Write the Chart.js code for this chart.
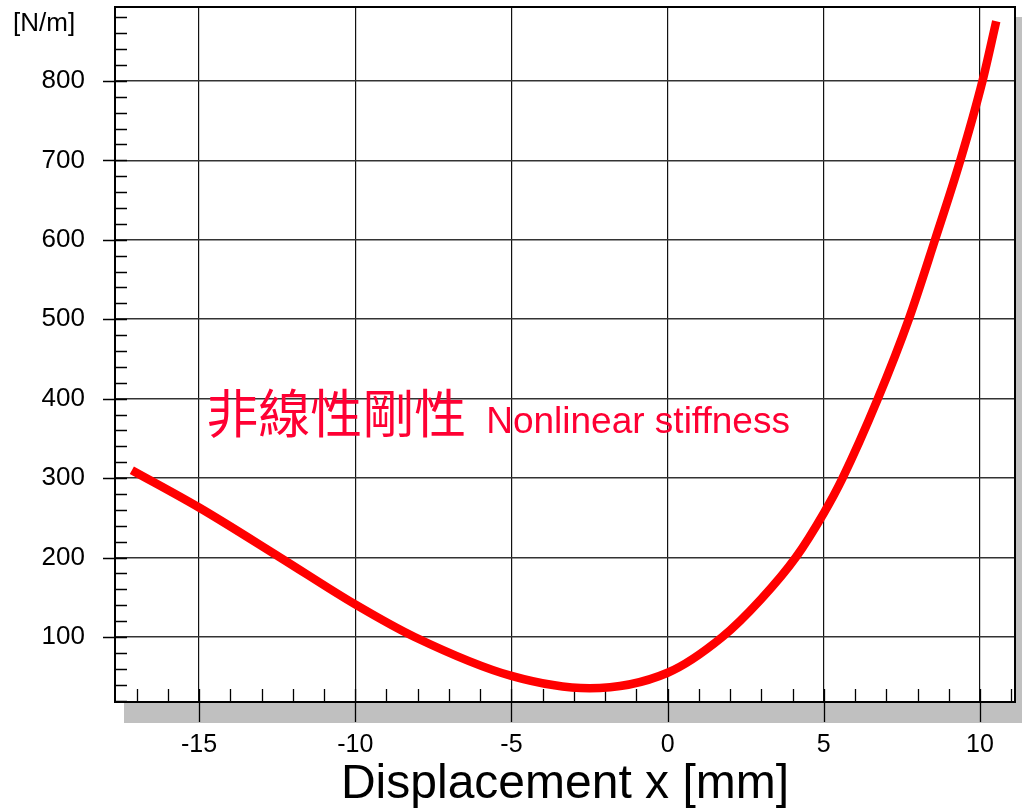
<!DOCTYPE html>
<html>
<head>
<meta charset="utf-8">
<script src="https://cdn.jsdelivr.net/npm/chart.js@4.4.1/dist/chart.umd.min.js"></script>
<style>
  html, body { margin: 0; padding: 0; background: #fff; }
</style>
</head>
<body>
<canvas id="chart" width="1022" height="811"></canvas>
<script>
// values
const displacement = [-17.15, -15, -12.4, -10, -8.1, -5, -2.5, 0, 1.75, 3.0, 4.1, 5, 5.6, 6.73, 7.72, 8.56, 9.37, 10.08, 10.52];
const stiffness = [310, 263, 200, 141, 100, 51, 35.5, 55, 100, 148, 200, 256, 300, 400, 500, 600, 700, 800, 875];
const xTicks = [-15, -10, -5, 0, 5, 10];
const yTicks = [100, 200, 300, 400, 500, 600, 700, 800];
const yUnit = "[N/m]";
const xTitle = "Displacement x [mm]";
const labelJa = "非線性剛性";
const labelEn = "Nonlinear stiffness";

const FONT = "'Liberation Sans', Arial, sans-serif";

function noPadding(s) {
    s.paddingTop = 0;
    s.paddingBottom = 0;
    s.paddingLeft = 0;
    s.paddingRight = 0;
}

const frame = {
    id: "frame",
    beforeDraw(chart) {
        const { ctx, chartArea: a } = chart;
        ctx.save();
        // drop shadow under the plot box
        ctx.fillStyle = "#c0c0c0";
        ctx.fillRect(a.left + 9, a.top + 10, a.right - a.left, a.bottom - a.top + 11);
        ctx.fillStyle = "#fff";
        ctx.fillRect(a.left, a.top, a.right - a.left, a.bottom - a.top);
        ctx.restore();
    },
    beforeDatasetsDraw(chart) {
        const { ctx, chartArea: a } = chart;
        const xs = chart.scales.x, ys = chart.scales.y;
        ctx.save();
        ctx.strokeStyle = "#000";
        ctx.lineWidth = 1.3;
        ctx.beginPath();
        for (let v = Math.ceil(xs.min); v <= Math.floor(xs.max); v++) {
            const px = Math.round(xs.getPixelForValue(v)) + 0.5;
            ctx.moveTo(px, a.bottom - 13);
            ctx.lineTo(px, v % 5 === 0 ? a.bottom + 20 : a.bottom);
        }
        for (let v = Math.ceil(ys.min / 20) * 20; v <= ys.max; v += 20) {
            const py = Math.round(ys.getPixelForValue(v)) + 0.5;
            ctx.moveTo(v % 100 === 0 ? a.left - 12 : a.left, py);
            ctx.lineTo(a.left + 12, py);
        }
        ctx.stroke();

        ctx.lineWidth = 2;
        ctx.strokeRect(a.left, a.top, a.right - a.left, a.bottom - a.top);

        // unit label
        ctx.fillStyle = "#000";
        ctx.font = "26px " + FONT;
        ctx.textAlign = "left";
        ctx.textBaseline = "middle";
        ctx.fillText(yUnit, 13, 24);

        // curve label
        const tx = xs.getPixelForValue(-14.77);
        const ty = ys.getPixelForValue(357);
        ctx.fillStyle = "#ff0033";
        ctx.textBaseline = "alphabetic";
        ctx.font = "52px 'Noto Sans CJK TC', 'Noto Sans CJK JP', sans-serif";
        ctx.fillText(labelJa, tx, ty);
        const w = ctx.measureText(labelJa).width;
        ctx.font = "37px " + FONT;
        ctx.fillText(labelEn, tx + w + 20, ty);
        ctx.restore();
    }
};

new Chart(document.getElementById("chart"), {
    type: "line",
    data: {
        datasets: [{
            data: displacement.map((x, i) => ({ x, y: stiffness[i] })),
            borderColor: "#ff0000",
            borderWidth: 8.5,
            borderCapStyle: "butt",
            pointRadius: 0,
            cubicInterpolationMode: "monotone",
            fill: false
        }]
    },
    options: {
        responsive: false,
        animation: false,
        devicePixelRatio: 1,
        layout: { padding: { top: 7, right: 7, left: 0, bottom: 0 } },
        plugins: { legend: { display: false }, tooltip: { enabled: false } },
        scales: {
            x: {
                type: "linear",
                min: -17.69,
                max: 11.12,
                afterFit(s) { s.height = 109; noPadding(s); },
                afterBuildTicks(s) { s.ticks = xTicks.map(v => ({ value: v })); },
                grid: { color: "#111", lineWidth: 1.2, drawTicks: false },
                border: { display: false },
                ticks: { padding: 28, color: "#000", font: { family: FONT, size: 25 } },
                title: {
                    display: true,
                    text: xTitle,
                    color: "#000",
                    padding: 0,
                    font: { family: FONT, size: 48, lineHeight: 1.08 }
                }
            },
            y: {
                type: "linear",
                min: 18.2,
                max: 893,
                afterFit(s) { s.width = 115; noPadding(s); },
                afterBuildTicks(s) { s.ticks = yTicks.map(v => ({ value: v })); },
                grid: { color: "#333", lineWidth: 1.6, drawTicks: false },
                border: { display: false },
                ticks: { padding: 30, color: "#000", font: { family: FONT, size: 26 } }
            }
        }
    },
    plugins: [frame]
});
</script>
</body>
</html>
